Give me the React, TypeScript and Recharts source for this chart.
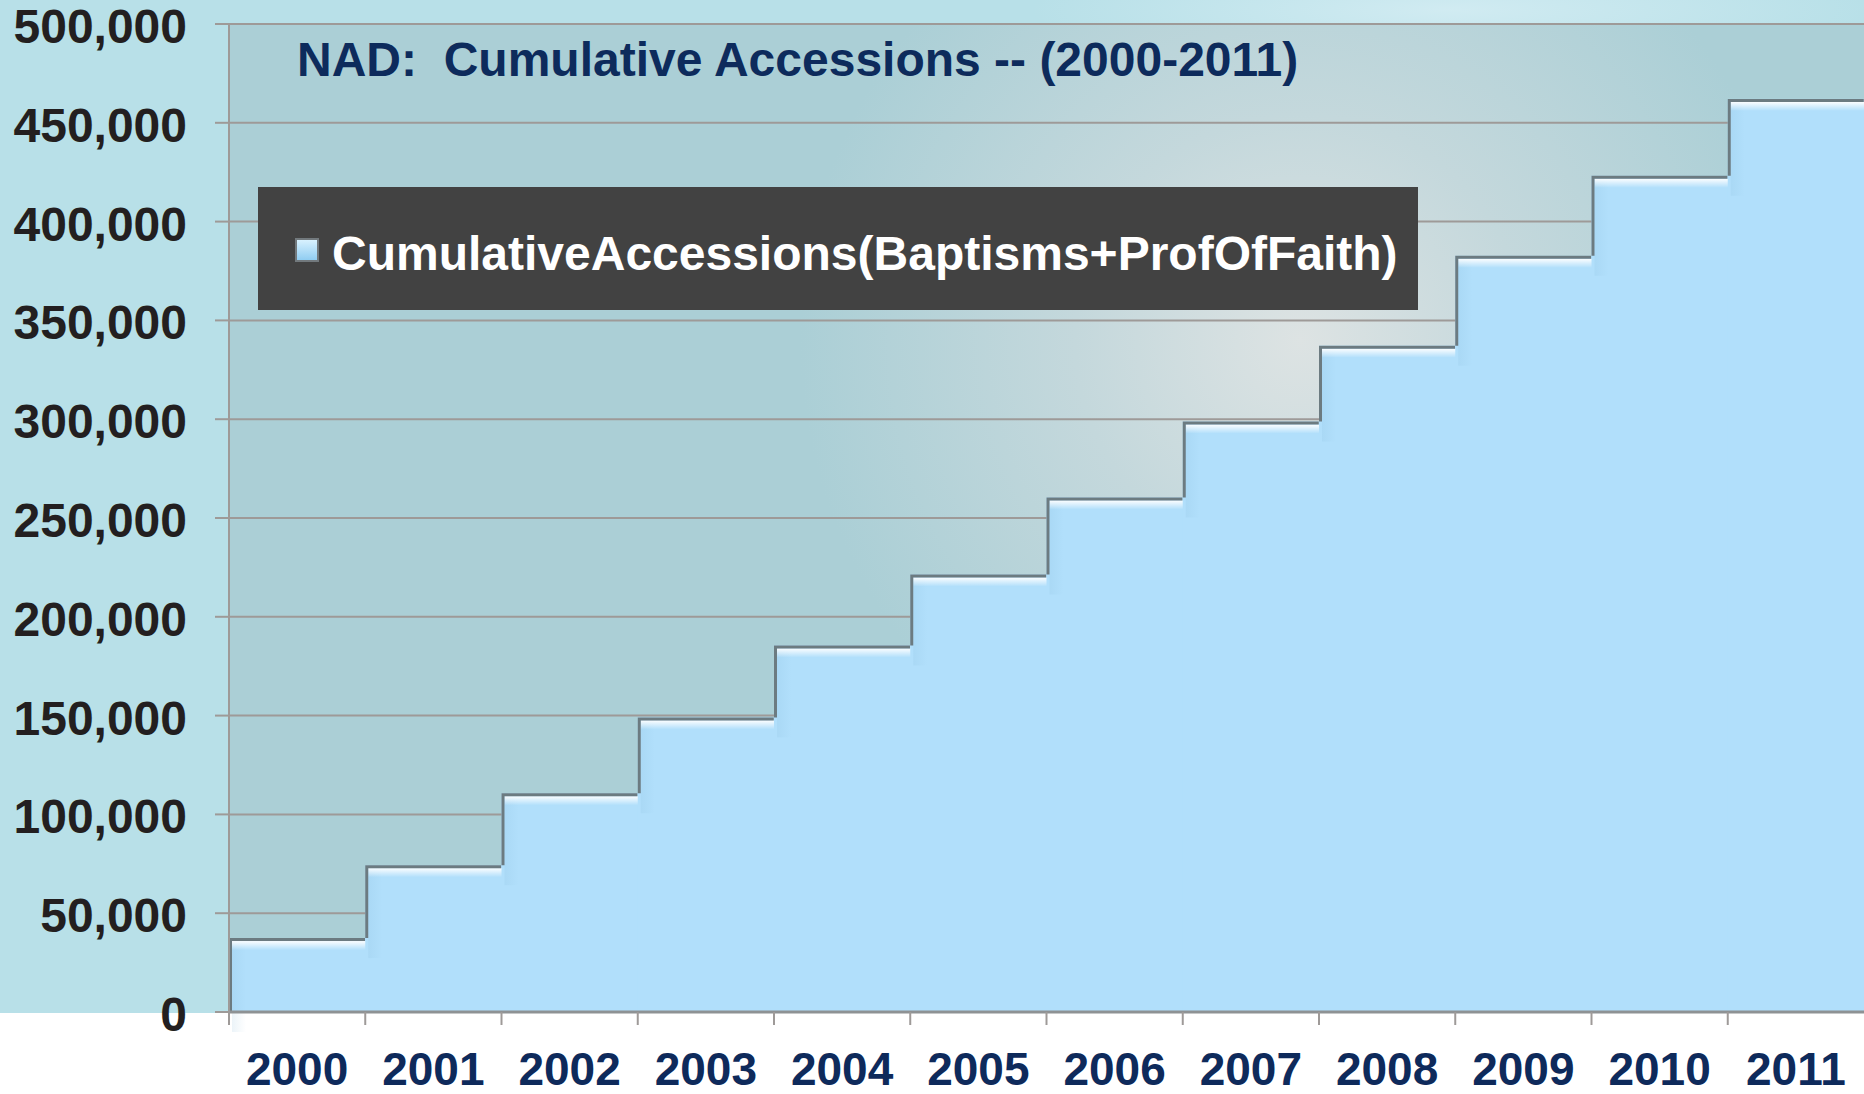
import React from 'react'
import { BarChart, Bar, XAxis, YAxis, CartesianGrid, Legend } from 'recharts'

const years = ['2000', '2001', '2002', '2003', '2004', '2005', '2006', '2007', '2008', '2009', '2010', '2011']
const accessions = [37400, 74300, 110700, 149100, 185500, 221400, 260400, 298800, 337200, 382700, 423200, 462100]
const yTicks = [0, 50000, 100000, 150000, 200000, 250000, 300000, 350000, 400000, 450000, 500000]
const seriesName = 'CumulativeAccessions(Baptisms+ProfOfFaith)'
const title = 'NAD:  Cumulative Accessions -- (2000-2011)'

const data = years.map((year, i) => ({ year, accessions: accessions[i] }))

const FONT = '"Liberation Sans", Arial, Helvetica, sans-serif'
const GRID = '#9e9a98'

function YTick({ x, y, payload }: any) {
  return (
    <g>
      <line x1={x - 14} x2={x} y1={y} y2={y} stroke={GRID} strokeWidth={2} />
      <text x={x - 42} y={y} dy={19} textAnchor="end" fontSize={48} fontWeight="bold" fill="#231f20" fontFamily={FONT}>
        {Number(payload.value).toLocaleString('en-US')}
      </text>
    </g>
  )
}

function XTick({ x, y, payload }: any) {
  const half = payload.offset ?? 68
  return (
    <g>
      <line x1={x - half} x2={x - half} y1={y} y2={y + 13} stroke={GRID} strokeWidth={2} />
      <text x={x} y={y + 73} textAnchor="middle" fontSize={46} fontWeight="bold" fill="#0e2a5b" fontFamily={FONT}>
        {payload.value}
      </text>
    </g>
  )
}

// step bar: fill + dark edge on top/left + white highlight under the top
function StepBar(props: any) {
  const { x, y, width, height, index } = props
  const val = accessions[index]
  const prevVal = index > 0 ? accessions[index - 1] : 0
  const bottom = y + height
  const prevTop = bottom - (prevVal * height) / val
  return (
    <g>
      <rect x={x} y={y} width={width + 1} height={height} fill="#b1dffb" />
      <rect x={x + 3} y={y} width={14} height={Math.max(0, prevTop - y + 20)} fill="url(#stepShade)" />
      <rect x={x + 3} y={y + 3} width={width + 4} height={9} fill="url(#stepHi)" />
      <path d={`M${x + 1.5},${prevTop} V${y + 1.5} H${x + width}`} fill="none" stroke="#6c7b81" strokeWidth={3} />
    </g>
  )
}

function LegendBox({ payload }: any) {
  const label = payload?.[0]?.value ?? seriesName
  return (
    <svg width={1160} height={123} style={{ display: 'block' }}>
      <defs>
        <linearGradient id="lgSwatch" x1="0" y1="0" x2="0" y2="1">
          <stop offset="0" stopColor="#dcf3ff" />
          <stop offset="1" stopColor="#8ccbf1" />
        </linearGradient>
      </defs>
      <rect width={1160} height={123} fill="#424242" />
      <rect x={38} y={52} width={22} height={22} fill="url(#lgSwatch)" stroke="#72797d" strokeWidth={2} />
      <text x={74} y={83} fill="#ffffff" fontSize={48} fontWeight="bold" fontFamily={FONT}>
        {label}
      </text>
    </svg>
  )
}

export default function App() {
  return (
    <div
      style={{
        position: 'absolute',
        left: 0,
        top: 0,
        width: 1864,
        height: 1094,
        background:
          'radial-gradient(ellipse 420px 60px at 1450px 10px, rgba(215,238,244,0.8), rgba(184,224,232,0) 100%), linear-gradient(to bottom, #b8e0e8 0px, #b8e0e8 1013px, #ffffff 1013px)',
        overflow: 'hidden',
      }}
    >
      <svg width={0} height={0} style={{ position: 'absolute' }}>
        <defs>
          <radialGradient id="plotGlow" gradientUnits="userSpaceOnUse" cx={1300} cy={340} r={500}>
            <stop offset="0" stopColor="#dde3e3" />
            <stop offset="0.45" stopColor="#c4d8dc" />
            <stop offset="1" stopColor="#abcfd6" />
          </radialGradient>
          <linearGradient id="stepHi" x1="0" y1="0" x2="0" y2="1">
            <stop offset="0" stopColor="#ffffff" stopOpacity={0.95} />
            <stop offset="1" stopColor="#ffffff" stopOpacity={0} />
          </linearGradient>
          <linearGradient id="stepShade" x1="0" y1="0" x2="1" y2="0">
            <stop offset="0" stopColor="#7fb4d4" stopOpacity={0.15} />
            <stop offset="1" stopColor="#7fb4d4" stopOpacity={0} />
          </linearGradient>
        </defs>
      </svg>
      <BarChart
        width={1864}
        height={1094}
        data={data}
        barCategoryGap={0}
        barGap={0}
        margin={{ top: 24, right: 0, bottom: 0, left: 0 }}
      >
        <CartesianGrid vertical={false} stroke={GRID} strokeWidth={2} fill="url(#plotGlow)" fillOpacity={1} />
        <XAxis
          dataKey="year"
          height={82}
          tickSize={0}
          tickMargin={0}
          tickLine={false}
          axisLine={{ stroke: '#8e9294', strokeWidth: 3 }}
          tick={<XTick />}
          interval={0}
        />
        <YAxis
          width={229}
          domain={[0, 500000]}
          ticks={yTicks}
          tickSize={0}
          tickMargin={0}
          tickLine={false}
          axisLine={{ stroke: GRID, strokeWidth: 2 }}
          tick={<YTick />}
          interval={0}
        />
        <Legend
          layout="horizontal"
          verticalAlign="middle"
          align="center"
          content={<LegendBox />}
          wrapperStyle={{ position: 'absolute', left: 258, top: 187, width: 1160, height: 123 }}
        />
        <Bar dataKey="accessions" name={seriesName} fill="#b1dffb" shape={<StepBar />} isAnimationActive={false} />
      </BarChart>
      <svg width={1864} height={120} style={{ position: 'absolute', left: 0, top: 0, pointerEvents: 'none' }}>
        <text x={297} y={76} fontSize={48} fontWeight="bold" fill="#0d2b5c" fontFamily={FONT} style={{ whiteSpace: 'pre' }}>
          {title}
        </text>
      </svg>
    </div>
  )
}
